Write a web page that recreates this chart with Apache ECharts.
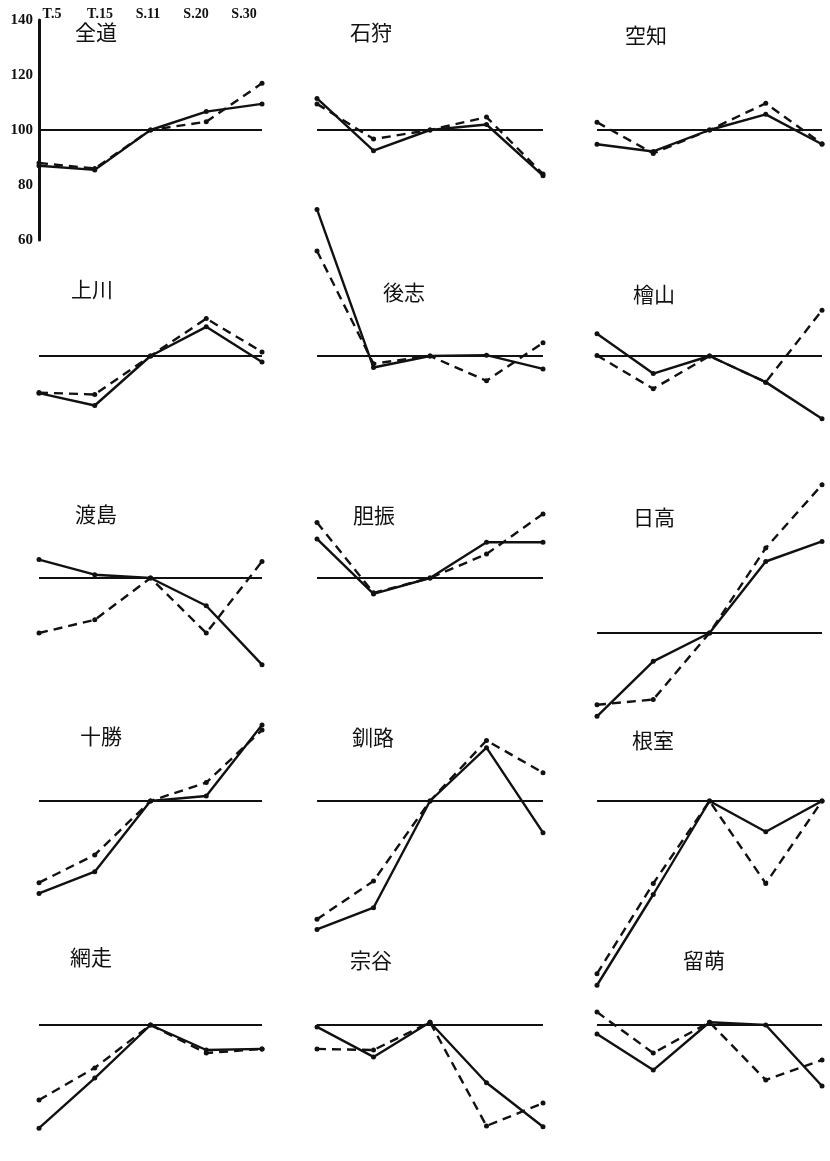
<!DOCTYPE html>
<html>
<head>
<meta charset="utf-8">
<script src="https://cdn.jsdelivr.net/npm/echarts@6/dist/echarts.min.js"></script>
<style>
html,body{margin:0;padding:0;background:#fff;}
#chart{width:830px;height:1161px;}
</style>
</head>
<body>
<div id="chart"></div>
<script>
// ---- data ----
const periods = ['T.5', 'T.15', 'S.11', 'S.20', 'S.30'];
const yTicks = [60, 80, 100, 120, 140];
const regionNames = ['全道', '石狩', '空知', '上川', '後志', '檜山', '渡島', '胆振', '日高', '十勝', '釧路', '根室', '網走', '宗谷', '留萌'];

// solid line / dashed line values (index, S.11 = 100)
const zendoSolid   = [87, 85.5, 100, 106.7, 109.5];
const zendoDashed  = [88, 86, 100, 103, 117];
const ishikariSolid  = [111.5, 92.5, 100, 102, 83.4];
const ishikariDashed = [109.5, 96.7, 100, 104.7, 84];
const sorachiSolid  = [94.8, 92.2, 100, 105.7, 94.8];
const sorachiDashed = [102.8, 91.5, 100, 109.7, 95];
const kamikawaSolid  = [86.5, 82, 100, 110.6, 97.8];
const kamikawaDashed = [86.7, 86, 100, 113.6, 101.5];
const shiribeshiSolid  = [153.3, 95.8, 100, 100.3, 95.3];
const shiribeshiDashed = [138.2, 97.2, 100, 91, 104.8];
const hiyamaSolid  = [108.1, 93.6, 100, 90.5, 77.2];
const hiyamaDashed = [100.2, 88.1, 100, 90.5, 116.6];
const oshimaSolid  = [106.7, 101.2, 100, 89.9, 68.5];
const oshimaDashed = [80, 84.8, 100, 80, 106];
const iburiSolid  = [114.2, 94.2, 100, 113, 113];
const iburiDashed = [120.2, 94.6, 100, 108.7, 123.3];
const hidakaSolid  = [69.7, 89.7, 100, 126, 133.3];
const hidakaDashed = [73.9, 75.8, 100, 130.9, 153.9];
const tokachiSolid  = [66.4, 74.3, 100, 101.8, 127.6];
const tokachiDashed = [70.3, 80.4, 100, 106.7, 125.8];
const kushiroSolid  = [53.3, 61.2, 100, 119.4, 88.5];
const kushiroDashed = [57, 70.9, 100, 122, 110.3];
const nemuroSolid  = [33, 66, 100, 88.8, 100];
const nemuroDashed = [37.2, 70, 100, 70, 100];
const abashiriSolid  = [62.5, 80.7, 100, 90.9, 91.3];
const abashiriDashed = [72.7, 84.4, 100, 89.8, 91.3];
const soyaSolid  = [99.3, 88.4, 101, 79, 63];
const soyaDashed = [91.3, 90.9, 101, 63.3, 71.6];
const rumoiSolid  = [96.7, 83.6, 101, 100, 77.8];
const rumoiDashed = [104.7, 89.8, 101, 80, 87.3];

const solidSets  = [zendoSolid, ishikariSolid, sorachiSolid, kamikawaSolid, shiribeshiSolid, hiyamaSolid, oshimaSolid, iburiSolid, hidakaSolid, tokachiSolid, kushiroSolid, nemuroSolid, abashiriSolid, soyaSolid, rumoiSolid];
const dashedSets = [zendoDashed, ishikariDashed, sorachiDashed, kamikawaDashed, shiribeshiDashed, hiyamaDashed, oshimaDashed, iburiDashed, hidakaDashed, tokachiDashed, kushiroDashed, nemuroDashed, abashiriDashed, soyaDashed, rumoiDashed];

// ---- layout ----
const colLeft = [39, 317, 597];
const colWidth = [223, 226, 225];
const rowBase = [130, 356, 578, 801, 1025];
const rowMin = [60, 20, 20, 20, 55];
const rowMax = [140, 170, 170, 170, 120];
const baseOverride = {8: 633};
const pxPerUnit = 2.75;
const titlePos = [
  [70, 17], [345, 17], [620, 20],
  [66, 274], [378, 277], [628, 279],
  [70, 499], [348, 500], [628, 502],
  [75, 721], [347, 722], [627, 725],
  [65, 942], [345, 945], [678, 945]
];

const grids = [], xAxes = [], yAxes = [], series = [], titles = [];
const serif = 'Liberation Serif';

regionNames.forEach((name, i) => {
  const row = Math.floor(i / 3), col = i % 3;
  const base = baseOverride[i] !== undefined ? baseOverride[i] : rowBase[row];
  const yMin = rowMin[row];
  const yMax = rowMax[row];
  grids.push({
    left: colLeft[col], width: colWidth[col],
    top: base - (yMax - 100) * pxPerUnit,
    height: (yMax - yMin) * pxPerUnit,
    containLabel: false,
    outerBoundsMode: 'none'
  });
  xAxes.push({
    type: 'category', gridIndex: i, data: periods, boundaryGap: false,
    show: false
  });
  const isMain = i === 0;
  yAxes.push({
    type: 'value', gridIndex: i, min: yMin, max: yMax, interval: 20,
    show: isMain,
    axisLine: {show: isMain, lineStyle: {color: '#111', width: 3}},
    axisTick: {show: false},
    splitLine: {show: false},
    axisLabel: {
      show: isMain, color: '#111', fontFamily: serif, fontSize: 15, fontWeight: 'bold', margin: 6,
      formatter: v => (yTicks.indexOf(v) >= 0 ? String(v) : '')
    }
  });
  series.push({
    type: 'line', xAxisIndex: i, yAxisIndex: i, data: solidSets[i],
    symbol: 'circle', symbolSize: 5, showSymbol: true,
    lineStyle: {color: '#111', width: 2.4, type: 'solid'},
    itemStyle: {color: '#111'},
    animation: false, silent: true, z: 3,
    markLine: {
      silent: true, symbol: 'none', animation: false,
      label: {show: false},
      lineStyle: {color: '#111', width: 2, type: 'solid'},
      data: [{yAxis: 100}]
    }
  });
  series.push({
    type: 'line', xAxisIndex: i, yAxisIndex: i, data: dashedSets[i],
    symbol: 'circle', symbolSize: 5, showSymbol: true,
    lineStyle: {color: '#111', width: 2.4, type: [9, 6]},
    itemStyle: {color: '#111'},
    animation: false, silent: true, z: 4
  });
  titles.push({
    text: name, left: titlePos[i][0], top: titlePos[i][1],
    textStyle: {fontFamily: 'Noto Sans CJK JP', fontSize: 21, fontWeight: 'normal', color: '#111'}
  });
});

// header labels (period names) above first panel
const hdr = regionNames.length;
grids.push({left: 28, width: 240, top: 23, height: 1, outerBoundsMode: 'none'});
xAxes.push({
  type: 'category', gridIndex: hdr, data: periods, boundaryGap: true, position: 'top',
  axisLine: {show: false}, axisTick: {show: false},
  axisLabel: {color: '#111', fontFamily: serif, fontSize: 14, fontWeight: 'bold', margin: 2, interval: 0}
});
yAxes.push({type: 'value', gridIndex: hdr, min: 0, max: 1, show: false});

const chart = echarts.init(document.getElementById('chart'), null, {renderer: 'canvas'});
chart.setOption({
  backgroundColor: '#fff',
  animation: false,
  title: titles,
  grid: grids,
  xAxis: xAxes,
  yAxis: yAxes,
  series: series
});
</script>
</body>
</html>
